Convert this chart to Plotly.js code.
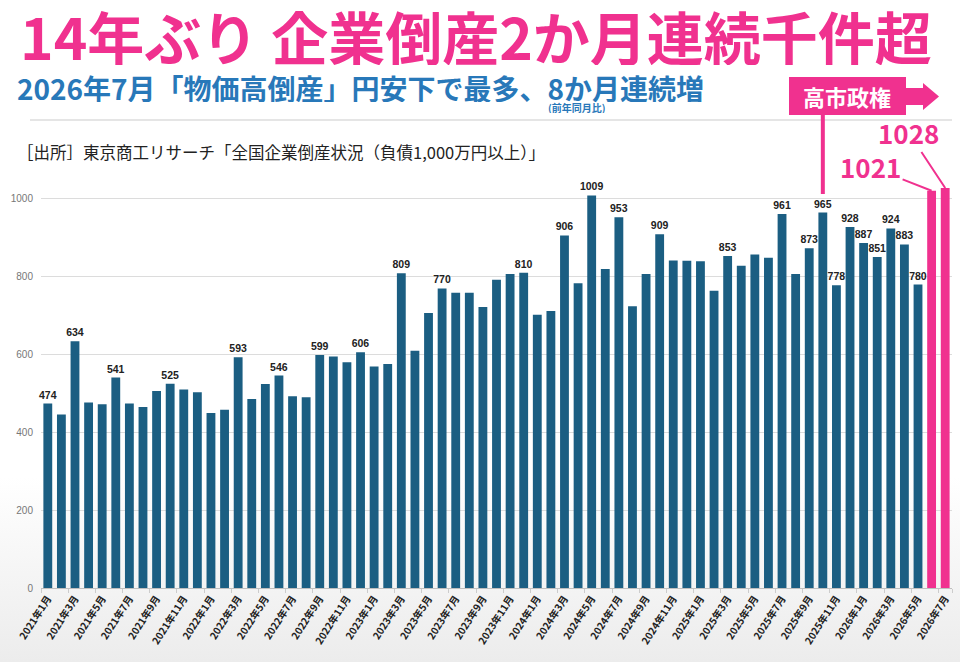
<!DOCTYPE html>
<html lang="ja">
<head>
<meta charset="utf-8">
<script src="https://cdn.plot.ly/plotly-3.0.1.min.js"></script>
<style>
    html, body { margin: 0; padding: 0; background: #fff; }
    #chart {
        width: 960px;
        height: 662px;
        background: linear-gradient(to bottom, #ffffff 0%, #ffffff 72%, #ececec 100%);
    }
</style>
</head>
<body>
<div id="chart"></div>
<script>
'use strict';

// 全国企業倒産件数（負債1,000万円以上）2021年1月〜2026年7月
const startYear = 2021;
const counts = [
    474, 446, 634, 477, 472, 541, 474, 465, 506, 525, 510, 503,   // 2021
    450, 458, 593, 486, 524, 546, 493, 490, 599, 595, 580, 606,   // 2022
    569, 576, 809, 610, 707, 770, 759, 759, 722, 792, 807, 810,   // 2023
    702, 712, 906, 783, 1009, 820, 953, 724, 807, 909, 842, 841,  // 2024
    840, 764, 853, 828, 857, 849, 961, 807, 873, 965, 778, 928,   // 2025
    887, 851, 924, 883, 780, 1021, 1028                           // 2026
];

// 数値ラベルを付ける月
const labeledMonths = [
    '2021年1月', '2021年3月', '2021年6月', '2021年10月', '2022年3月', '2022年6月',
    '2022年9月', '2022年12月', '2023年3月', '2023年6月', '2023年12月', '2024年3月',
    '2024年5月', '2024年7月', '2024年10月', '2025年3月', '2025年7月', '2025年9月',
    '2025年10月', '2025年11月', '2025年12月', '2026年1月', '2026年2月', '2026年3月',
    '2026年4月', '2026年5月'
];
const highlightMonths = ['2026年6月', '2026年7月'];
const takaichiStart = '2025年10月';

const months = [];
for (let i = 0; i < counts.length; i++) {
    const y = startYear + Math.floor(i / 12);
    months.push(y + '年' + (i % 12 + 1) + '月');
}
const tickMonths = months.filter((m, i) => i % 2 === 0);

const BLUE = '#1b5e82';
const PINK = '#f0318f';
const W = 960, H = 662;
const M = {l: 41, r: 8, t: 160, b: 74};

// pixel -> paper
function px(x) { return (x - M.l) / (W - M.l - M.r); }
function py(y) { return (H - M.b - y) / (H - M.t - M.b); }
function path(points) {
    return 'M' + points.map(p => px(p[0]) + ',' + py(p[1])).join('L') + 'Z';
}

const JP = '"Noto Sans CJK JP", "Noto Sans", sans-serif';
const LAT = '"Liberation Sans", Arial, sans-serif';

const trace = {
    type: 'bar',
    x: months,
    y: counts,
    marker: {color: months.map(m => highlightMonths.includes(m) ? PINK : BLUE)},
    text: months.map((m, i) => labeledMonths.includes(m) ? String(counts[i]) : ''),
    textposition: 'outside',
    constraintext: 'none',
    cliponaxis: false,
    textfont: {family: LAT, size: 10.5, weight: 'bold', color: '#222'},
    hoverinfo: 'none'
};

const pinkText = (size) => ({family: JP, size: size, weight: 'bold', color: PINK});

const layout = {
    width: W,
    height: H,
    margin: M,
    paper_bgcolor: 'rgba(0,0,0,0)',
    plot_bgcolor: 'rgba(0,0,0,0)',
    showlegend: false,
    bargap: 0.35,
    xaxis: {
        type: 'category',
        tickvals: tickMonths,
        ticktext: tickMonths,
        tickangle: -57,
        tickfont: {family: JP, size: 10, weight: 'bold', color: '#222'},
        showline: true,
        linecolor: '#bfbfbf',
        ticks: 'outside',
        tickson: 'boundaries',
        ticklen: 4,
        tickcolor: '#cccccc',
        showgrid: false
    },
    yaxis: {
        range: [0, 1100],
        tick0: 0,
        dtick: 200,
        gridcolor: '#dcdcdc',
        zeroline: false,
        showline: false,
        ticklabelstandoff: 7,
        tickfont: {family: LAT, size: 10, color: '#777'}
    },
    shapes: [
        // 見出し下の区切り線
        {type: 'line', xref: 'paper', yref: 'paper', x0: px(30), x1: px(952), y0: py(120), y1: py(120),
            line: {color: '#dddddd', width: 1.5}},
        // 高市政権の囲みと矢印
        {type: 'rect', xref: 'paper', yref: 'paper', x0: px(789), x1: px(906), y0: py(115), y1: py(77),
            fillcolor: PINK, line: {width: 0}},
        {type: 'path', xref: 'paper', yref: 'paper', fillcolor: PINK, line: {width: 0},
            path: path([[905, 88], [923, 88], [923, 83], [939, 96.5], [923, 110], [923, 105], [905, 105]])},
        {type: 'line', xref: 'x', yref: 'paper', x0: takaichiStart, x1: takaichiStart, y0: py(194), y1: py(114),
            line: {color: PINK, width: 4}}
    ],
    annotations: [
        {xref: 'paper', yref: 'paper', x: px(476), y: py(35), xanchor: 'center', yanchor: 'middle',
            height: 60, text: '14年ぶり 企業倒産2か月連続千件超', showarrow: false, font: pinkText(57)},
        {xref: 'paper', yref: 'paper', x: px(15), y: py(88), xanchor: 'left', yanchor: 'middle',
            height: 28, text: '2026年7月「物価高倒産」円安下で最多、8か月連続増', showarrow: false,
            font: {family: JP, size: 28, weight: 'bold', color: '#2878b9'}},
        {xref: 'paper', yref: 'paper', x: px(577), y: py(107), xanchor: 'center', yanchor: 'middle',
            height: 12, text: '(前年同月比)', showarrow: false,
            font: {family: JP, size: 10, weight: 'bold', color: '#2878b9'}},
        {xref: 'paper', yref: 'paper', x: px(15), y: py(152), xanchor: 'left', yanchor: 'middle',
            text: '［出所］東京商工リサーチ「全国企業倒産状況（負債1,000万円以上）」', showarrow: false,
            font: {family: JP, size: 16.5, color: '#222'}},
        {xref: 'paper', yref: 'paper', x: px(847), y: py(96), xanchor: 'center', yanchor: 'middle',
            text: '高市政権', showarrow: false,
            font: {family: JP, size: 22, weight: 'bold', color: '#fff'}},
        {xref: 'x', yref: 'y', x: highlightMonths[1], y: counts[counts.length - 1],
            ax: -37, ay: -56, text: String(counts[counts.length - 1]),
            showarrow: true, arrowhead: 0, arrowwidth: 2, arrowcolor: PINK, standoff: 0,
            font: pinkText(26)},
        {xref: 'x', yref: 'y', x: highlightMonths[0], y: counts[counts.length - 2],
            ax: -61, ay: -24, text: String(counts[counts.length - 2]),
            showarrow: true, arrowhead: 0, arrowwidth: 2, arrowcolor: PINK, standoff: 0,
            font: pinkText(26)}
    ]
};

Plotly.newPlot('chart', [trace], layout, {displayModeBar: false, staticPlot: true});
</script>
</body>
</html>
